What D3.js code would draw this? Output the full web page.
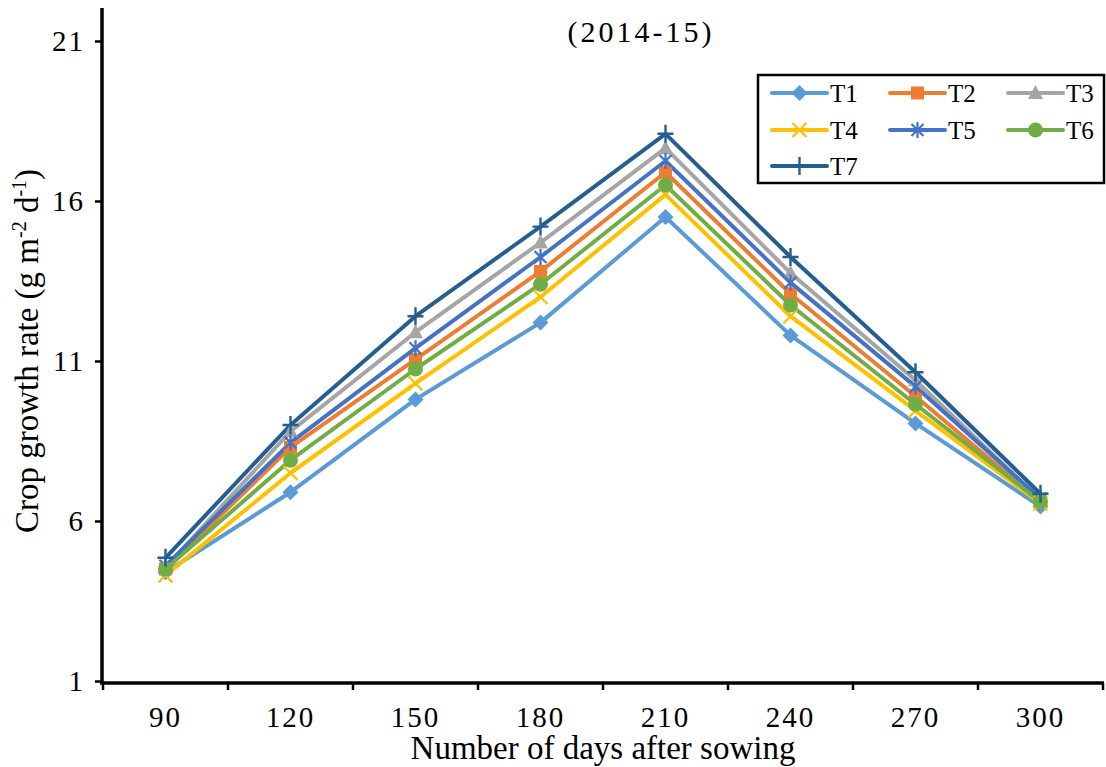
<!DOCTYPE html>
<html>
<head>
<meta charset="utf-8">
<script src="https://cdn.jsdelivr.net/npm/d3@7"></script>
<style>
  body { margin: 0; background: #fff; }
  text { font-family: "Liberation Serif", "Times New Roman", serif; fill: #000; }
</style>
</head>
<body>
<div id="chart"></div>
<script>
// data
var days = ["90", "120", "150", "180", "210", "240", "270", "300"];
var seriesNames = ["T1", "T2", "T3", "T4", "T5", "T6", "T7"];
var T1 = [4.4, 6.9, 9.8, 12.2, 15.5, 11.8, 9.05, 6.45];
var T2 = [4.5, 8.3, 11.05, 13.8, 16.9, 13.1, 9.9, 6.6];
var T3 = [4.55, 8.8, 11.9, 14.7, 17.65, 13.75, 10.4, 6.65];
var T4 = [4.3, 7.5, 10.3, 13.0, 16.2, 12.4, 9.45, 6.55];
var T5 = [4.6, 8.45, 11.4, 14.25, 17.25, 13.45, 10.2, 6.7];
var T6 = [4.5, 7.9, 10.75, 13.4, 16.5, 12.75, 9.65, 6.6];
var T7 = [4.85, 9.0, 12.4, 15.2, 18.1, 14.25, 10.65, 6.85];
var yTicks = [1, 6, 11, 16, 21];
var colors = ["#5b9bd5", "#ed7d31", "#a5a5a5", "#ffc000", "#4472c4", "#70ad47", "#255e91"];
var markers = ["diamond", "square", "triangle", "x", "star", "circle", "plus"];

var series = [T1, T2, T3, T4, T5, T6, T7].map(function (vals, i) {
  return { name: seriesNames[i], values: vals, color: colors[i], marker: markers[i] };
});

var width = 1106, height = 767;
var svg = d3.select("#chart").append("svg")
  .attr("width", width).attr("height", height);

var x = d3.scaleBand().domain(days).range([103, 1103]);
var y = d3.scaleLinear().domain([1, 21]).range([681, 41]);

// marker drawing
function drawMarker(g, type, color) {
  if (type === "diamond") {
    g.append("path").attr("d", "M0,-8L8,0L0,8L-8,0Z").attr("fill", color);
  } else if (type === "square") {
    g.append("rect").attr("x", -6.5).attr("y", -6.5).attr("width", 13).attr("height", 13).attr("fill", color);
  } else if (type === "triangle") {
    g.append("path").attr("d", "M0,-8L7.5,6L-7.5,6Z").attr("fill", color);
  } else if (type === "circle") {
    g.append("circle").attr("r", 7.5).attr("fill", color);
  } else if (type === "x") {
    g.append("path").attr("d", "M-7,-7L7,7M-7,7L7,-7").attr("stroke", color).attr("stroke-width", 2.2);
  } else if (type === "star") {
    g.append("path").attr("d", "M-6,-6L6,6M-6,6L6,-6M0,-8L0,8").attr("stroke", color).attr("stroke-width", 2.2);
  } else if (type === "plus") {
    g.append("path").attr("d", "M-8,0L8,0M0,-9L0,9").attr("stroke", color).attr("stroke-width", 2.4);
  }
}

var line = d3.line()
  .x(function (d, i) { return x(days[i]) + x.bandwidth() / 2; })
  .y(function (d) { return y(d); });

// lines
series.forEach(function (s) {
  svg.append("path")
    .datum(s.values)
    .attr("d", line)
    .attr("fill", "none")
    .attr("stroke", s.color)
    .attr("stroke-width", 4)
    .attr("stroke-linejoin", "round");
});

// markers on top
series.forEach(function (s) {
  s.values.forEach(function (v, i) {
    var g = svg.append("g")
      .attr("transform", "translate(" + (x(days[i]) + x.bandwidth() / 2) + "," + y(v) + ")");
    drawMarker(g, s.marker, s.color);
  });
});

// y axis
var yAxis = svg.append("g")
  .attr("transform", "translate(102,0)")
  .call(d3.axisLeft(y).tickValues(yTicks).tickSize(7).tickPadding(10));
yAxis.select(".domain").attr("d", "M0,8V683").attr("stroke", "#000").attr("stroke-width", 3.5);
yAxis.selectAll(".tick line").attr("stroke-width", 2.5);
yAxis.selectAll(".tick text")
  .attr("font-family", null)
  .style("font-size", "29px")
  .style("letter-spacing", "2px");

// x axis
var xAxis = svg.append("g")
  .attr("transform", "translate(0,683)")
  .call(d3.axisBottom(x).tickSize(0).tickPadding(23));
xAxis.select(".domain").attr("d", "M100,0H1104").attr("stroke", "#000").attr("stroke-width", 3.5);
xAxis.selectAll(".tick text")
  .attr("font-family", null)
  .style("font-size", "29px")
  .style("letter-spacing", "2px");
// ticks between categories
xAxis.selectAll(".between")
  .data(days.concat(["end"]))
  .enter().append("line")
  .attr("x1", function (d, i) { return 103 + i * x.step(); })
  .attr("x2", function (d, i) { return 103 + i * x.step(); })
  .attr("y1", 0).attr("y2", 7)
  .attr("stroke", "#000").attr("stroke-width", 2.5);

// axis titles
svg.append("text")
  .attr("x", 603).attr("y", 759)
  .attr("text-anchor", "middle")
  .style("font-size", "33px")
  .text("Number of days after sowing");

var yt = svg.append("text")
  .attr("transform", "translate(38,351) rotate(-90)")
  .attr("text-anchor", "middle")
  .style("font-size", "33px");
yt.append("tspan").text("Crop growth rate (g m");
yt.append("tspan").attr("dy", -12).style("font-size", "20px").text("-2");
yt.append("tspan").attr("dy", 12).text(" d");
yt.append("tspan").attr("dy", -12).style("font-size", "20px").text("-1");
yt.append("tspan").attr("dy", 12).text(")");

// chart title
svg.append("text")
  .attr("x", 641).attr("y", 42)
  .attr("text-anchor", "middle")
  .style("font-size", "30px")
  .style("letter-spacing", "3px")
  .text("(2014-15)");

// legend
var legend = svg.append("g");
legend.append("rect")
  .attr("x", 758).attr("y", 75).attr("width", 346).attr("height", 108)
  .attr("fill", "#fff").attr("stroke", "#000").attr("stroke-width", 2.5);
var colX = [772, 890, 1008], rowY = [93, 130, 166];
series.forEach(function (s, i) {
  var cx = colX[i % 3], cy = rowY[Math.floor(i / 3)];
  legend.append("line")
    .attr("x1", cx).attr("x2", cx + 55).attr("y1", cy).attr("y2", cy)
    .attr("stroke", s.color).attr("stroke-width", 4).attr("stroke-linecap", "round");
  var g = legend.append("g").attr("transform", "translate(" + (cx + 27.5) + "," + cy + ")");
  drawMarker(g, s.marker, s.color);
  legend.append("text")
    .attr("x", cx + 58).attr("y", cy + 9)
    .style("font-size", "25px")
    .text(s.name);
});
</script>
</body>
</html>
